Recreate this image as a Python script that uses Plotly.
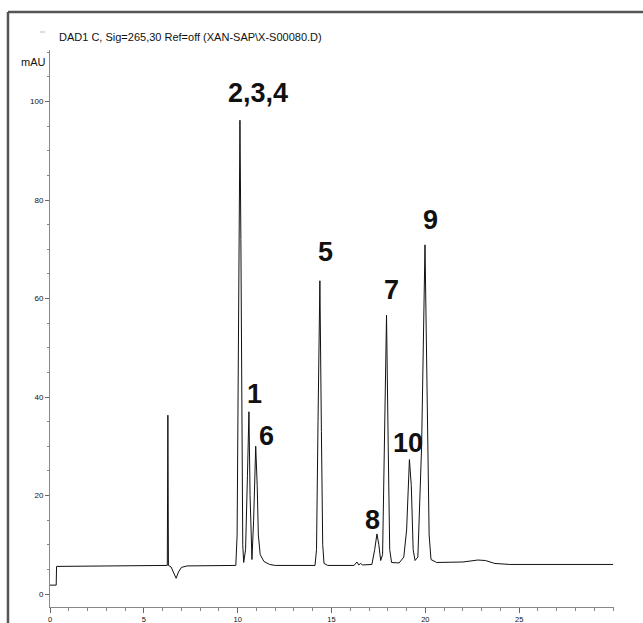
import plotly.graph_objects as go

# Chromatogram trace (time in min, signal in mAU)
time_min = [0.0, 0.33, 0.35, 3.0, 6.25, 6.28, 6.31, 6.45, 6.6, 6.72, 6.85, 7.0, 7.3,
            9.9, 9.97, 10.02, 10.07, 10.12, 10.17, 10.22, 10.27, 10.32,
            10.42, 10.52, 10.6, 10.66, 10.72, 10.76, 10.85, 10.96, 11.04, 11.1, 11.2, 11.4, 11.7,
            12.0, 14.12, 14.2, 14.28, 14.38, 14.46, 14.53, 14.6, 14.8,
            16.2, 16.35, 16.45, 16.55, 16.65, 17.15, 17.3, 17.42, 17.52, 17.62,
            17.72, 17.82, 17.93, 18.02, 18.1, 18.2, 18.6, 18.85, 19.0, 19.15, 19.25, 19.35,
            19.45, 19.6, 19.8, 19.98, 20.1, 20.2, 20.3, 20.6, 22.0, 22.8, 23.2, 23.7, 24.5, 30.0]
signal_mau = [1.8, 1.8, 5.6, 5.7, 5.8, 36.3, 5.8, 5.5, 4.0, 3.2, 4.5, 5.4, 5.7,
              5.8, 12.0, 40.0, 75.0, 96.2, 72.0, 35.0, 10.0, 6.4,
              9.0, 24.0, 37.0, 20.0, 7.5, 7.0, 15.0, 30.0, 22.0, 12.0, 8.0, 6.6, 6.0,
              5.8, 5.8, 9.0, 35.0, 63.6, 33.0, 10.0, 6.2, 5.8,
              5.8, 6.5, 5.9, 6.2, 5.9, 6.0, 9.0, 12.2, 10.0, 6.8,
              8.0, 30.0, 56.6, 30.0, 9.0, 6.4, 6.3, 7.5, 13.0, 27.3, 22.0, 9.0,
              6.8, 7.5, 30.0, 70.9, 38.0, 12.0, 7.0, 6.4, 6.5, 6.9, 6.8, 6.2, 6.0, 6.0]

# Peak labels and their positions
peak_labels = ["2,3,4", "1", "6", "5", "7", "8", "10", "9"]
label_time = [11.08, 10.88, 11.51, 14.7, 18.17, 17.19, 19.07, 20.25]
label_mau = [101.7, 40.6, 32.1, 69.4, 61.7, 15.0, 30.7, 75.9]

x_ticks = [0, 5, 10, 15, 20, 25]
y_ticks = [0, 20, 40, 60, 80, 100]

fig = go.Figure()
fig.add_trace(go.Scatter(x=time_min, y=signal_mau, mode="lines",
                         line=dict(color="#111111", width=1), hoverinfo="x+y"))

for lab, t, v in zip(peak_labels, label_time, label_mau):
    fig.add_annotation(x=t, y=v, text="<b>%s</b>" % lab, showarrow=False,
                       font=dict(family="Liberation Sans Narrow, Liberation Sans", size=27, color="#111111"),
                       xanchor="center", yanchor="middle")

fig.add_annotation(x=0.0124, y=1.0233, xref="paper", yref="paper", showarrow=False,
                   text="DAD1 C, Sig=265,30 Ref=off (XAN-SAP\\X-S00080.D)",
                   font=dict(family="Liberation Sans", size=11, color="#111111"),
                   xanchor="left", yanchor="middle")
fig.add_annotation(x=-0.0035, y=0.9785, xref="paper", yref="paper", showarrow=False,
                   text="mAU", font=dict(family="Liberation Sans", size=11, color="#111111"),
                   xanchor="right", yanchor="middle")

# frame
fig.add_shape(type="line", xref="paper", yref="paper", x0=-0.0745, x1=-0.0745, y0=1.0682, y1=-0.06,
              line=dict(color="#555555", width=2.5))
fig.add_shape(type="line", xref="paper", yref="paper", x0=-0.0745, x1=1.1, y0=1.0682, y1=1.0682,
              line=dict(color="#555555", width=2.5))
fig.add_shape(type="line", xref="paper", yref="paper", x0=-0.0177, x1=-0.0089, y0=1.0323, y1=1.0323,
              line=dict(color="#bbbbbb", width=1))

fig.update_xaxes(range=[0, 30.05], tickvals=x_ticks, ticktext=[str(v) for v in x_ticks],
                 ticks="outside", ticklen=5, tickcolor="#666666", tickwidth=1,
                 minor=dict(dtick=1, ticks="outside", ticklen=3, tickcolor="#888888"),
                 showline=True, linecolor="#888888", linewidth=1, showgrid=False, zeroline=False,
                 automargin=False,
                 tickfont=dict(family="Liberation Sans Narrow, Liberation Sans", size=7.5, color="#111111"))
fig.update_yaxes(range=[-2.64, 110.46], tickvals=y_ticks, ticktext=[str(v) for v in y_ticks],
                 ticks="outside", ticklen=4, tickcolor="#666666", tickwidth=1,
                 minor=dict(dtick=5, ticks="outside", ticklen=2, tickcolor="#888888"),
                 showline=True, linecolor="#888888", linewidth=1, showgrid=False, zeroline=False,
                 automargin=False,
                 tickfont=dict(family="Liberation Sans Narrow, Liberation Sans", size=8, color="#111111"))

fig.update_layout(width=643, height=623, margin=dict(l=50, r=29, t=50, b=16),
                  plot_bgcolor="white", paper_bgcolor="white", showlegend=False)
fig.write_html("out.html")
